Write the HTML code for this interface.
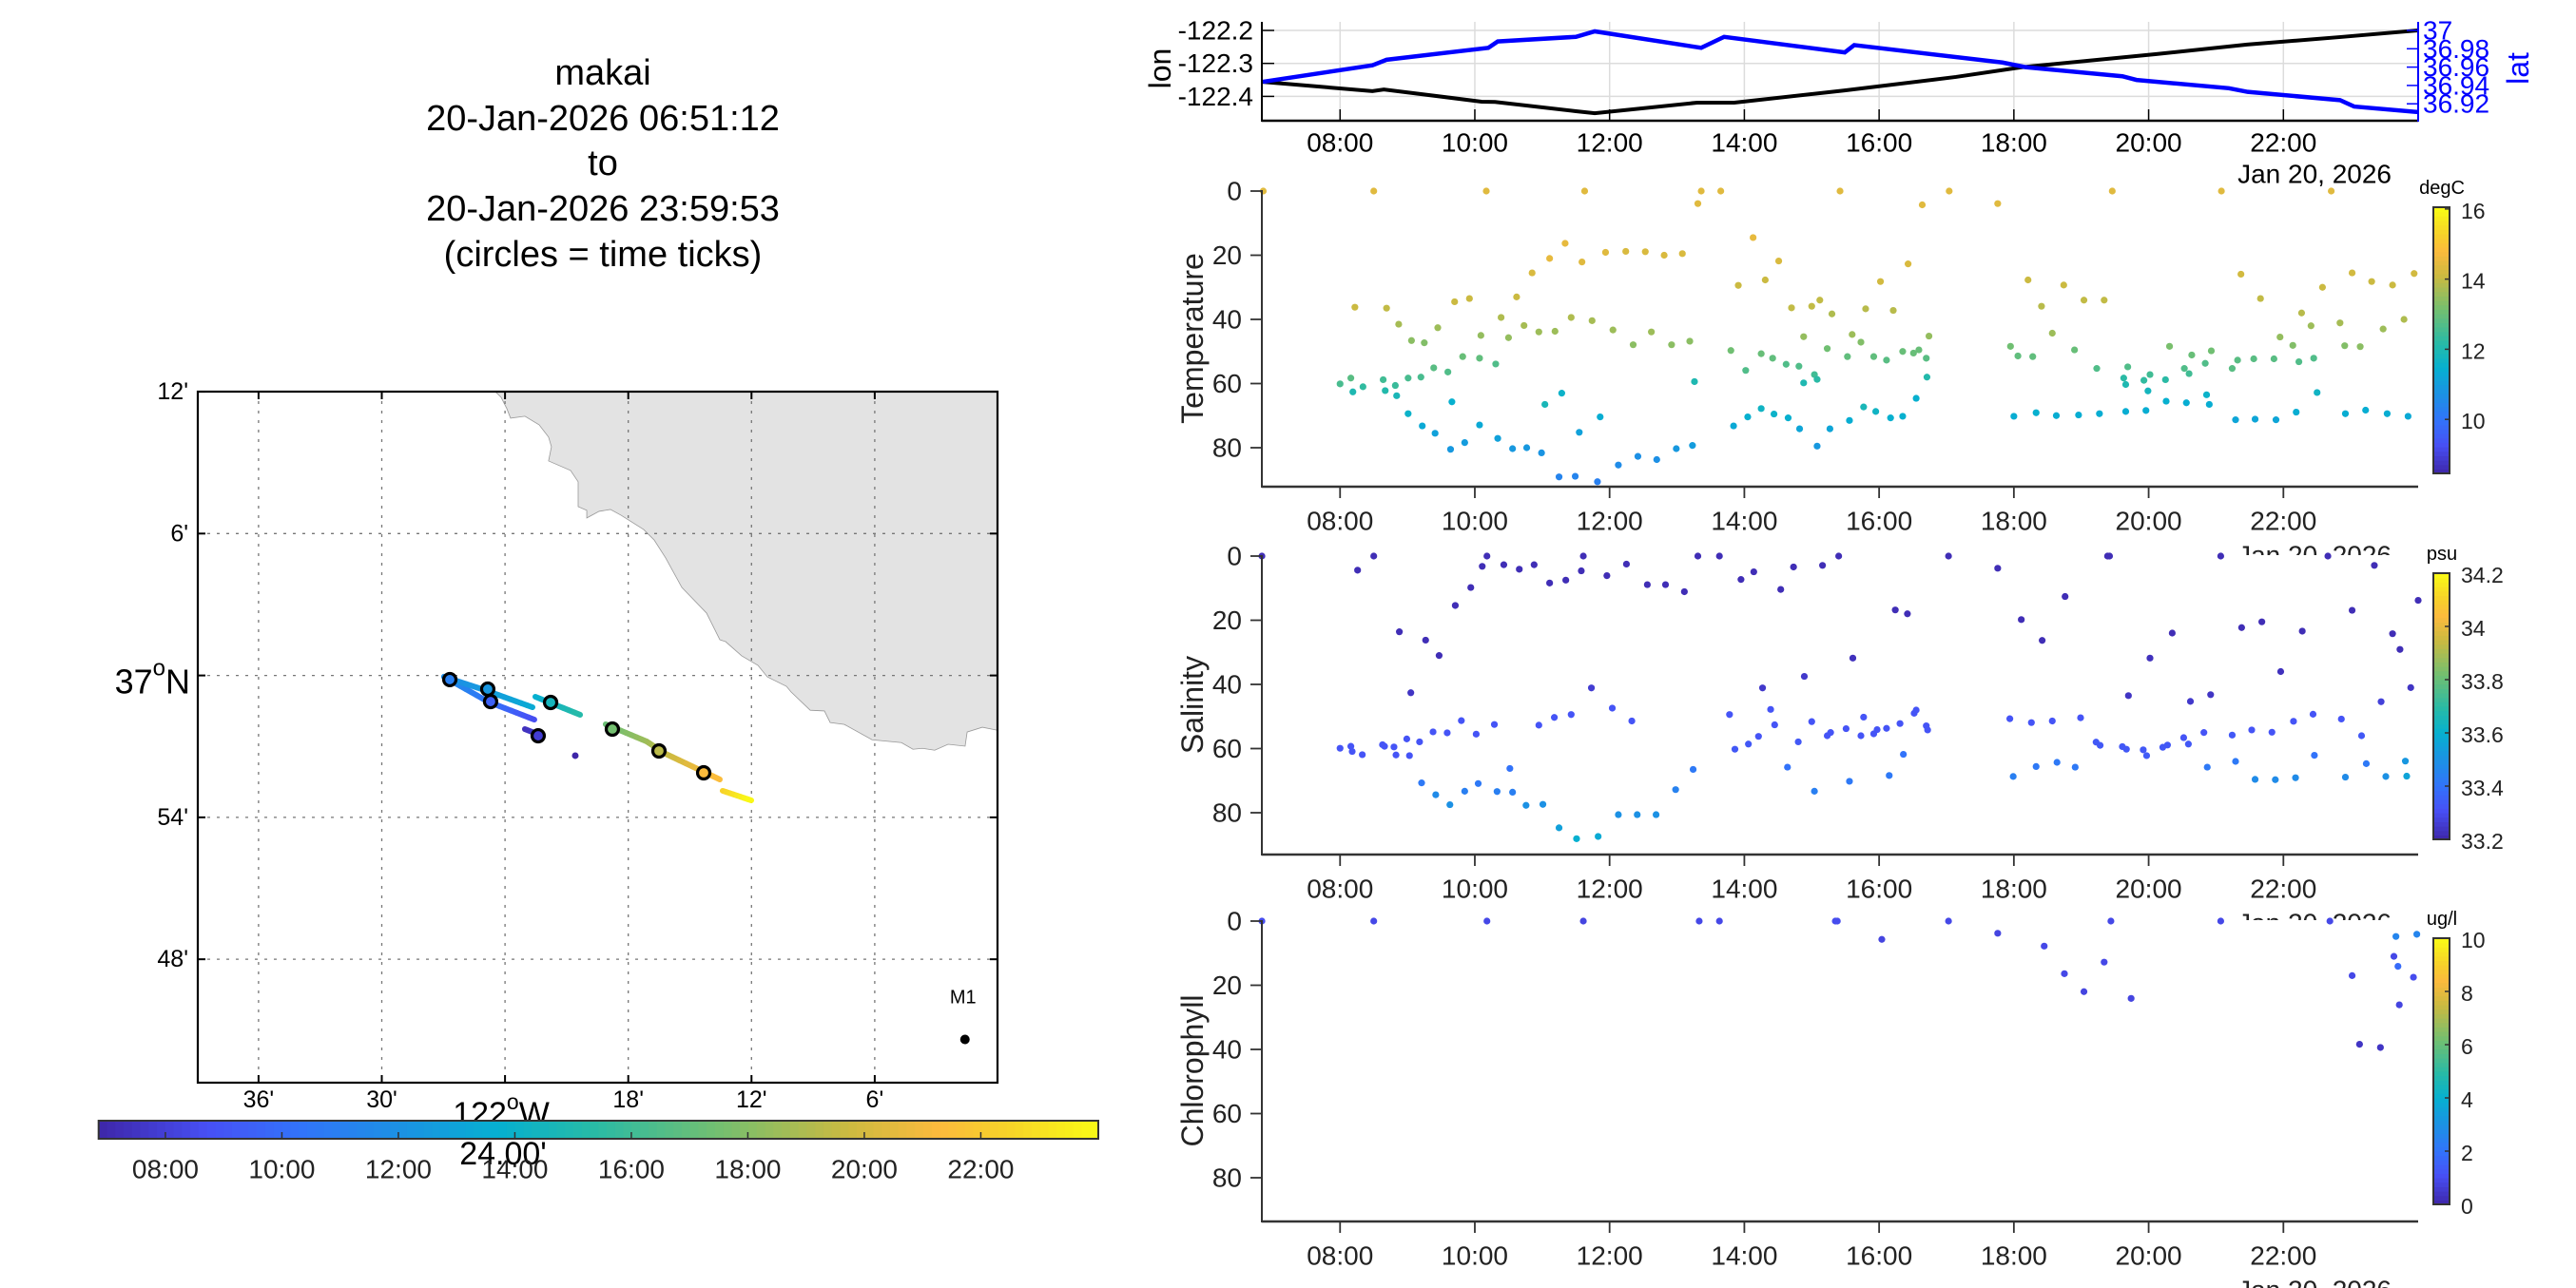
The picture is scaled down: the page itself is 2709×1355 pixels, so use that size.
<!DOCTYPE html>
<html><head><meta charset="utf-8">
<style>
html,body{margin:0;padding:0;background:#fff;}
svg{display:block;font-family:"Liberation Sans",Arial,sans-serif;}
</style></head>
<body>
<svg id="fig" xmlns="http://www.w3.org/2000/svg" width="2709" height="1355" viewBox="0 0 2709 1355">
<rect x="0" y="0" width="2709" height="1355" fill="#fff"/>
<g font-size="38" text-anchor="middle" fill="#000">
<text x="634" y="89">makai</text>
<text x="634" y="137">20-Jan-2026 06:51:12</text>
<text x="634" y="184">to</text>
<text x="634" y="232">20-Jan-2026 23:59:53</text>
<text x="634" y="280">(circles = time ticks)</text>
</g>
<defs>
<clipPath id="mapclip"><rect x="208" y="412" width="841" height="727"/></clipPath>
</defs>
<g id="map"></g>
<g id="cbarH"></g>
<g id="lonlat"></g>
<g id="temp"></g>
<g id="sal"></g>
<g id="chl"></g>
</svg>
<script>
// ---------- DATA ----------
const hourTicks = [8, 10, 12, 14, 16, 18, 20, 22];
const hourLabels = ["08:00", "10:00", "12:00", "14:00", "16:00", "18:00", "20:00", "22:00"];
const depthTicks = [0, 20, 40, 60, 80];

const lonTime = [6.853, 8.48, 8.65, 10.1, 10.3, 11.5, 11.78, 13.3, 13.85, 15.49, 17.14, 18.1, 20.1, 21.46, 22.85, 24.0];
const lonVal = [-122.356, -122.384, -122.379, -122.416, -122.417, -122.445, -122.451, -122.419, -122.419, -122.382, -122.341, -122.312, -122.272, -122.243, -122.220, -122.200];
const latTime = [6.853, 8.48, 8.69, 10.2, 10.34, 11.5, 11.78, 13.36, 13.7, 15.49, 15.63, 17.83, 18.17, 19.61, 19.82, 21.19, 21.47, 22.84, 23.05, 24.0];
const latVal = [36.944, 36.962, 36.968, 36.981, 36.988, 36.993, 36.999, 36.981, 36.993, 36.976, 36.984, 36.965, 36.960, 36.950, 36.946, 36.937, 36.933, 36.924, 36.917, 36.911];
const lonTicks = [-122.2, -122.3, -122.4];
const lonTickLabels = ["-122.2", "-122.3", "-122.4"];
const latTicks = [37, 36.98, 36.96, 36.94, 36.92];
const latTickLabels = ["37", "36.98", "36.96", "36.94", "36.92"];

// map track (decimal degrees), segment ids and times
const trackTime = [6.85, 7.3, 7.8, 8.5, 10.3, 11.75, 12.5, 13.4, 13.6, 15.3, 17.2, 18.5, 19.5, 21.5, 22.3, 24.0];
const trackLon = [-122.3430, -122.3839, -122.3723, -122.3762, -122.4140, -122.4495, -122.4140, -122.3777, -122.3754, -122.3391, -122.3183, -122.2851, -122.2697, -122.2257, -122.2234, -122.2002];
const trackLat = [36.9435, 36.9622, 36.9582, 36.9689, 36.9816, 36.9991, 36.9890, 36.9776, 36.9850, 36.9723, 36.9656, 36.9535, 36.9448, 36.9267, 36.9187, 36.9120];
const trackSeg = [0, 1, 1, 2, 2, 2, 2, 2, 3, 3, 4, 4, 4, 4, 5, 5];
const circTime = [7.9, 9.5, 11.0, 12.3, 14.5, 17.5, 19.3, 21.3];
const circLon = [-122.3731, -122.4117, -122.4448, -122.4140, -122.3630, -122.3129, -122.2751, -122.2388];
const circLat = [36.9575, 36.9816, 36.9971, 36.9904, 36.9810, 36.9622, 36.9468, 36.9314];
// coastline in arc-minutes (west of 122W, north of 37N)
const coastMinW = [24.47, 24.19, 23.91, 23.73, 23.03, 22.34, 21.88, 21.74, 21.88, 20.81, 20.44, 20.44, 20.02, 20.02, 19.42, 18.87, 18.36, 17.25, 16.74, 16.18, 15.39, 14.19, 13.54, 13.26, 12.48, 11.69, 11.23, 10.30, 10.07, 9.14, 8.45, 8.17, 7.48, 6.13, 4.70, 4.14, 3.68, 3.08, 2.43, 1.60, 1.50, 0.76, 0.0, 0.0];
const coastMinN = [12.0, 11.76, 11.28, 10.88, 10.96, 10.60, 10.08, 9.67, 9.07, 8.67, 8.19, 7.14, 6.98, 6.66, 6.94, 7.02, 6.78, 6.17, 5.73, 4.97, 3.72, 2.64, 1.51, 1.43, 0.83, 0.43, -0.06, -0.46, -0.70, -1.47, -1.50, -1.99, -2.07, -2.72, -2.84, -3.12, -3.08, -3.16, -2.91, -2.99, -2.39, -2.19, -2.32, 12.0];
const mapLatTicks = [12, 6, 0, -6, -12];
const mapLatLabels = ["12'", "6'", "37°N", "54'", "48'"];
const mapLonTicks = [36, 30, 24, 18, 12, 6];
const mapLonLabels = ["36'", "30'", "", "18'", "12'", "6'"];
const m1Lon = -122.0268;
const m1Lat = 36.7435;

// temperature
const tempTime = [6.86,8.50,10.17,11.63,13.36,13.65,15.42,17.04,19.46,21.08,22.71,13.31,16.64,17.76,
8.22,8.00,8.16,8.19,8.34,8.64,8.67,8.69,8.82,8.84,8.87,9.01,9.01,9.06,9.20,9.22,9.25,9.41,9.45,9.39,9.60,9.66,9.64,9.70,9.82,9.85,9.92,
10.07,10.07,10.09,10.31,10.34,10.39,10.50,10.56,10.62,10.73,10.77,10.85,10.95,10.99,11.04,11.11,11.19,11.25,11.29,11.34,11.43,11.49,11.55,11.59,11.74,11.82,11.86,11.94,
12.05,12.13,12.24,12.35,12.42,12.53,12.62,12.70,12.81,12.92,12.99,13.08,13.19,13.23,13.26,13.80,13.84,13.91,
14.02,14.05,14.13,14.25,14.25,14.31,14.42,14.44,14.51,14.62,14.65,14.70,14.81,14.82,14.88,14.88,15.00,15.04,15.08,15.08,15.12,15.23,15.27,15.30,15.53,15.56,15.60,15.73,15.77,15.80,15.92,15.95,
16.02,16.11,16.17,16.21,16.35,16.35,16.43,16.51,16.55,16.59,16.70,16.71,16.74,
17.95,18.00,18.06,18.21,18.28,18.33,18.41,18.57,18.63,18.74,18.90,18.96,19.04,19.23,19.27,19.34,19.63,19.66,19.69,19.66,19.93,19.96,19.99,
20.02,20.25,20.26,20.31,20.53,20.56,20.60,20.64,20.84,20.86,20.90,20.93,21.24,21.29,21.32,21.37,21.56,21.58,21.66,21.86,21.89,21.95,
22.14,22.19,22.23,22.27,22.41,22.45,22.50,22.58,22.84,22.91,22.92,23.02,23.14,23.22,23.31,23.48,23.54,23.62,23.79,23.85,23.94];
const tempDepth = [0,0,0,0,0,0,0,0,0,0,0,3.9,4.3,3.9,
36.2,60.1,58.3,62.6,61.0,58.8,62.2,36.5,60.6,63.8,41.5,69.4,58.3,46.6,58.0,73.2,47.3,75.5,42.6,55.1,56.4,65.7,80.5,34.5,51.6,78.4,33.5,
52.1,72.9,45.0,53.9,77.1,39.4,45.7,80.3,33.0,41.9,80.0,25.5,43.9,81.6,66.5,21.0,43.7,89.1,63.0,16.3,39.4,88.9,75.2,22.1,40.4,90.6,70.4,19.1,
43.3,85.4,18.8,47.9,82.7,18.9,43.9,83.7,20.0,47.9,80.3,19.5,46.8,79.3,59.4,49.7,73.2,29.4,
55.9,70.4,14.5,50.7,67.8,27.7,52.1,69.5,21.8,54.0,70.7,36.4,54.6,74.1,45.4,59.8,35.9,57.2,58.7,79.5,34.0,49.1,74.1,38.3,51.6,71.5,44.7,47.1,67.3,36.7,51.6,68.7,
28.2,52.7,70.7,37.2,70.2,50.0,22.7,50.5,64.6,49.5,52.1,58.0,45.2,
48.4,70.2,51.4,27.7,51.6,69.1,35.9,44.3,70.0,29.3,49.5,69.8,34.0,55.3,69.4,34.0,58.3,60.3,54.8,68.7,59.0,68.4,62.3,
57.2,58.8,65.5,48.4,55.3,66.0,56.9,51.1,53.7,63.5,66.5,49.8,55.3,71.3,52.7,25.9,52.3,71.1,33.5,52.3,71.3,45.5,
48.1,68.9,53.2,38.0,42.0,52.1,62.8,30.0,41.1,48.2,69.4,25.5,48.5,68.3,28.2,43.0,69.4,29.3,40.0,70.2,25.7];
const tempVal = [14.4,14.4,14.4,14.4,14.4,14.4,14.4,14.4,14.4,14.4,14.4,14.4,14.4,14.4,
14.1,12.6,12.8,12.0,12.3,12.5,12.1,14.0,12.4,11.9,13.7,11.6,12.6,13.4,12.6,11.3,13.3,11.1,13.6,12.8,12.7,11.5,10.9,14.1,13.0,11.0,14.1,
12.9,11.3,13.5,12.7,11.1,13.8,13.5,10.9,14.1,13.7,10.9,14.3,13.6,10.8,11.9,14.5,13.6,10.4,11.6,14.5,13.8,10.4,11.1,14.4,13.7,10.3,11.4,14.4,
13.6,10.6,14.3,13.4,10.7,14.3,13.6,10.7,14.3,13.4,10.9,14.3,13.4,11.0,12.0,13.1,11.3,14.1,
12.7,11.5,14.5,13.0,11.7,14.1,12.9,11.6,14.3,12.7,11.5,14.0,12.7,11.2,13.5,12.0,14.0,12.5,12.2,10.9,14.0,13.1,11.2,13.8,12.9,11.4,13.6,13.3,11.9,13.9,12.9,11.7,
14.2,12.8,11.5,13.9,11.5,13.0,14.3,13.0,11.5,13.0,12.8,12.1,13.5,
13.1,11.4,12.9,14.1,12.9,11.5,13.9,13.6,11.4,14.1,13.0,11.4,14.0,12.7,11.4,14.0,12.2,12.0,12.7,11.4,12.3,11.4,11.8,
12.5,12.2,11.5,13.2,12.7,11.4,12.5,13.0,12.7,11.6,11.4,13.1,12.8,11.2,12.8,14.2,12.8,11.2,14.0,12.8,11.2,13.5,
13.3,11.4,12.7,13.9,13.6,12.7,11.7,14.1,13.7,13.3,11.4,14.2,13.4,11.4,14.1,13.6,11.4,14.1,13.8,11.3,14.2];

// salinity
const salTime = [6.84,8.50,10.18,11.61,13.31,13.63,15.40,17.03,19.39,19.42,21.07,22.66,
8.26,8.88,9.05,9.27,9.47,9.71,9.94,10.11,10.43,10.66,10.88,11.11,11.35,11.58,11.73,11.96,12.25,12.56,12.83,13.11,13.95,14.14,14.54,14.73,14.89,15.16,15.61,16.24,16.42,17.76,18.11,18.42,18.76,19.70,20.02,20.35,20.62,20.92,21.38,21.68,21.96,22.28,23.02,23.35,23.45,23.62,23.73,23.89,24.00,
8.00,8.16,8.18,8.33,8.63,8.66,8.80,8.83,8.99,9.03,9.18,9.38,9.59,9.80,10.02,10.29,10.95,11.18,11.43,12.04,12.33,13.78,13.86,14.06,14.21,14.27,14.39,14.45,14.80,15.00,15.23,15.28,15.51,15.73,15.77,15.92,15.97,16.11,16.31,16.52,16.55,16.70,16.72,16.36,
17.94,18.26,18.57,18.99,19.22,19.28,19.61,19.67,19.92,19.97,20.21,20.28,20.52,20.59,20.82,21.24,21.53,21.83,22.15,22.44,22.86,23.16,
9.21,9.42,9.63,9.85,10.05,10.33,10.52,10.56,10.76,11.01,11.25,11.51,11.83,12.13,12.41,12.69,12.98,13.24,14.64,15.04,15.56,16.15,17.99,18.33,18.64,18.91,20.87,21.29,21.58,21.88,22.18,22.46,22.92,23.23,23.52,23.81,23.83];
const salDepth = [0,0,0,0,0,0,0,0,0,0,0,0,
4.4,23.6,42.6,26.2,31.0,15.4,9.8,3.2,2.7,4.1,2.7,8.4,7.5,4.6,41.1,6.1,2.5,8.9,8.9,11.1,7.3,4.9,10.4,3.4,37.5,2.9,31.8,16.8,18.0,3.8,19.8,26.3,12.6,43.5,31.8,24.0,45.3,43.2,22.3,20.5,36.0,23.4,16.9,2.9,45.4,24.2,29.1,41.0,13.8,
59.9,59.3,60.9,61.9,58.8,59.3,59.5,62.0,57.0,62.2,57.9,54.8,55.1,51.3,55.5,52.5,52.7,50.3,49.4,47.4,51.4,49.4,60.2,58.6,56.2,41.1,47.8,52.6,57.9,51.6,56.0,55.0,53.8,56.0,50.2,55.4,54.1,53.7,52.2,49.0,48.0,52.9,54.2,61.8,
50.7,51.9,51.4,50.4,58.0,59.0,59.4,60.2,60.4,62.2,59.6,58.9,56.6,58.6,55.0,55.8,54.2,54.9,51.5,49.3,50.8,56.0,
70.7,74.4,77.5,73.3,70.9,73.4,66.2,73.6,77.7,77.4,84.7,88.1,87.4,80.6,80.6,80.6,72.8,66.5,65.8,73.3,70.2,68.4,68.7,65.6,64.3,65.8,65.8,64.0,69.6,69.7,69.1,62.1,68.9,64.7,68.7,63.9,68.6];
const salVal = [33.22,33.22,33.22,33.22,33.22,33.22,33.22,33.22,33.22,33.22,33.22,33.22,
33.22,33.22,33.24,33.22,33.22,33.22,33.22,33.22,33.22,33.22,33.22,33.22,33.22,33.22,33.26,33.22,33.22,33.22,33.22,33.22,33.22,33.22,33.22,33.22,33.25,33.22,33.23,33.22,33.22,33.22,33.22,33.22,33.22,33.24,33.23,33.22,33.25,33.24,33.22,33.22,33.23,33.22,33.22,33.22,33.27,33.22,33.22,33.24,33.22,
33.32,33.32,33.32,33.32,33.32,33.32,33.32,33.32,33.32,33.32,33.32,33.32,33.32,33.32,33.32,33.32,33.32,33.32,33.32,33.32,33.32,33.32,33.33,33.33,33.32,33.25,33.32,33.32,33.33,33.32,33.32,33.32,33.32,33.32,33.32,33.32,33.32,33.32,33.32,33.32,33.32,33.32,33.32,33.40,
33.32,33.32,33.32,33.32,33.33,33.33,33.33,33.33,33.33,33.34,33.33,33.33,33.32,33.33,33.32,33.33,33.32,33.32,33.32,33.32,33.32,33.33,
33.42,33.48,33.50,33.44,33.42,33.44,33.40,33.44,33.50,33.50,33.55,33.60,33.58,33.50,33.50,33.50,33.45,33.42,33.40,33.44,33.42,33.42,33.44,33.42,33.42,33.42,33.42,33.42,33.48,33.48,33.48,33.40,33.48,33.42,33.50,33.52,33.56];

// chlorophyll
const chlTime = [6.84,8.50,10.18,11.61,13.33,13.63,15.35,15.38,17.03,19.44,21.07,22.69,16.04,17.76,18.45,18.75,19.04,19.34,19.74,23.02,23.13,23.44,23.64,23.67,23.70,23.72,23.93,23.98];
const chlDepth = [0,0,0,0,0,0,0,0,0,0,0,0,5.7,3.8,7.8,16.4,22.0,12.8,24.1,17.0,38.4,39.4,11.0,4.8,14.1,26.1,17.5,4.1];
const chlVal = [1.0,0.9,0.9,0.8,0.9,0.9,1.0,1.0,0.9,0.9,0.9,0.9,0.8,0.8,0.9,0.9,0.8,0.9,0.8,0.9,0.4,0.4,0.9,2.6,1.8,0.8,1.0,2.6];

const tempCbTicks = [16, 14, 12, 10];
const salCbTicks = [34.2, 34, 33.8, 33.6, 33.4, 33.2];
const chlCbTicks = [10, 8, 6, 4, 2, 0];

// ---------- HELPERS ----------
const NS = "http://www.w3.org/2000/svg";
function el(tag, parent) { const e = document.createElementNS(NS, tag); parent.appendChild(e); return e; }
const PSTOPS = [[0,62,38,168],[0.11,71,80,245],[0.2,50,115,250],[0.3,28,145,228],[0.4,6,176,208],[0.49,38,186,168],[0.62,115,191,112],[0.75,204,186,64],[0.84,252,186,61],[0.9,247,207,43],[1,249,251,21]];
function parula(f) {
  f = Math.max(0, Math.min(1, f));
  for (let i = 1; i < PSTOPS.length; i++) {
    if (f <= PSTOPS[i][0]) {
      const a = PSTOPS[i-1], b = PSTOPS[i], u = (f - a[0]) / (b[0] - a[0]);
      return "rgb(" + [1,2,3].map(k => Math.round(a[k] + (b[k]-a[k])*u)).join(",") + ")";
    }
  }
  return "rgb(249,251,21)";
}
const T0 = 6.8533, T1 = 24.0;
function xT(t) { return 1328 + (t - T0) * 70.86; }
function txt(parent, x, y, s, size, anchor, fill) {
  const t = el("text", parent);
  t.setAttribute("x", x); t.setAttribute("y", y);
  t.setAttribute("font-size", size); t.setAttribute("text-anchor", anchor || "middle");
  t.setAttribute("dominant-baseline", "central");
  t.setAttribute("fill", fill || "#000");
  t.textContent = s;
  return t;
}
function line(parent, x1, y1, x2, y2, stroke, w) {
  const l = el("line", parent);
  l.setAttribute("x1", x1); l.setAttribute("y1", y1); l.setAttribute("x2", x2); l.setAttribute("y2", y2);
  l.setAttribute("stroke", stroke); l.setAttribute("stroke-width", w);
  return l;
}

// ---------- MAP ----------
(function () {
  const g = document.getElementById("map");
  const xM = m => 1049.5 - 21.6 * m;
  const yN = n => 710.6 - 24.88 * n;
  const xLon = lon => xM(-(lon + 122) * 60);
  const yLat = lat => yN((lat - 37) * 60);
  const inner = el("g", g);
  inner.setAttribute("clip-path", "url(#mapclip)");
  
  
  // coast
  const poly = el("polygon", inner);
  
  
  poly.setAttribute("points", coastMinW.map((m, i) => xM(m) + "," + yN(coastMinN[i])).join(" "));
  poly.setAttribute("fill", "#e3e3e3"); poly.setAttribute("stroke", "#999"); poly.setAttribute("stroke-width", "0.8");
  // grid
  mapLatTicks.forEach((n, i) => {
    const l = line(inner, 208, yN(n), 1049, yN(n), "#777", 1.3);
    l.setAttribute("stroke-dasharray", "3,7");
    
    
  });
  mapLonTicks.forEach((m, i) => {
    const l = line(inner, xM(m), 412, xM(m), 1139, "#777", 1.3);
    l.setAttribute("stroke-dasharray", "3,7");
    
    
  });
  // track
  const T = el("g", inner);
  
  
  const frac = t => (t - T0) / (T1 - T0);
  for (let i = 0; i < trackTime.length; i++) {
    const lone = (i === 0 || trackSeg[i-1] !== trackSeg[i]) && (i === trackTime.length - 1 || trackSeg[i+1] !== trackSeg[i]);
    if (lone) {
      const c = el("circle", T);
      
      
      c.setAttribute("cx", xLon(trackLon[i])); c.setAttribute("cy", yLat(trackLat[i])); c.setAttribute("r", 3.5);
      c.setAttribute("fill", parula(frac(trackTime[i])));
    }
    if (i < trackTime.length - 1 && trackSeg[i+1] === trackSeg[i]) {
      const N = 8;
      for (let k = 0; k < N; k++) {
        const u0 = k / N, u1 = (k + 1) / N;
        const l = line(T,
          xLon(trackLon[i] + (trackLon[i+1]-trackLon[i])*u0), yLat(trackLat[i] + (trackLat[i+1]-trackLat[i])*u0),
          xLon(trackLon[i] + (trackLon[i+1]-trackLon[i])*u1), yLat(trackLat[i] + (trackLat[i+1]-trackLat[i])*u1),
          parula(frac(trackTime[i] + (trackTime[i+1]-trackTime[i])*(u0+u1)/2)), 6);
        l.setAttribute("stroke-linecap", "round");
        
        
      }
    }
  }
  circTime.forEach((t, i) => {
    const c = el("circle", T);
    
    
    c.setAttribute("cx", xLon(circLon[i])); c.setAttribute("cy", yLat(circLat[i])); c.setAttribute("r", 6.5);
    c.setAttribute("fill", parula(frac(t))); c.setAttribute("stroke", "#000"); c.setAttribute("stroke-width", 3.2);
  });
  // M1
  const m1 = el("circle", inner);
  
  
  m1.setAttribute("cx", xLon(m1Lon)); m1.setAttribute("cy", yLat(m1Lat)); m1.setAttribute("r", 5);
  const m1t = txt(inner, xLon(m1Lon) - 2, yLat(m1Lat) - 44, "M1", 20);
  
  
  // frame
  const fr = el("rect", g);
  
  
  fr.setAttribute("x", 208); fr.setAttribute("y", 412); fr.setAttribute("width", 841); fr.setAttribute("height", 727);
  fr.setAttribute("fill", "none"); fr.setAttribute("stroke", "#000"); fr.setAttribute("stroke-width", 2.2);
  mapLatTicks.forEach((n, i) => {
    line(g, 208, yN(n), 216, yN(n), "#000", 2);
    line(g, 1041, yN(n), 1049, yN(n), "#000", 2);
    const big = mapLatLabels[i] === "37°N";
    const t = txt(g, big ? 200 : 198, yN(n) + (big ? 6 : 0), big ? "" : mapLatLabels[i], big ? 36 : 25, "end");
    if (big) {
      const a = el("tspan", t); a.textContent = "37";
      const b = el("tspan", t); b.textContent = "o"; b.setAttribute("font-size", 24); b.setAttribute("dy", -14);
      const c = el("tspan", t); c.textContent = "N"; c.setAttribute("dy", 14);
    }
    
    
  });
  mapLonTicks.forEach((m, i) => {
    line(g, xM(m), 1139, xM(m), 1131, "#000", 2);
    line(g, xM(m), 412, xM(m), 420, "#000", 2);
    const t = txt(g, xM(m), 1157, mapLonLabels[i], 25);
    
    
  });
  const w = txt(g, 527, 1172, "", 34);
  const w1 = el("tspan", w); w1.textContent = "122";
  const w2 = el("tspan", w); w2.textContent = "o"; w2.setAttribute("font-size", 23); w2.setAttribute("dy", -13);
  const w3 = el("tspan", w); w3.textContent = "W"; w3.setAttribute("dy", 13);
  
  
  const w4 = txt(g, 529, 1214, "24.00'", 34);
  
  
})();

// ---------- HORIZONTAL TIME COLORBAR ----------
(function () {
  const g = document.getElementById("cbarH");
  const x0 = 103.7, x1 = 1155, y0 = 1179, h = 19;
  const N = 120;
  for (let i = 0; i < N; i++) {
    const r = el("rect", g);
    
    
    r.setAttribute("x", x0 + (x1-x0)*i/N); r.setAttribute("y", y0);
    r.setAttribute("width", (x1-x0)/N + 0.6); r.setAttribute("height", h);
    r.setAttribute("fill", parula((i + 0.5) / N));
  }
  const fr = el("rect", g);
  
  
  fr.setAttribute("x", x0); fr.setAttribute("y", y0); fr.setAttribute("width", x1-x0); fr.setAttribute("height", h);
  fr.setAttribute("fill", "none"); fr.setAttribute("stroke", "#333"); fr.setAttribute("stroke-width", 2);
  hourTicks.forEach((t, i) => {
    const x = x0 + (t - T0) * 61.25;
    line(g, x, y0 + h, x, y0 + h - 7, "#333", 1.5);
    const l = txt(g, x, 1230, hourLabels[i], 28, "middle", "#222");
    
    
  });
})();

// ---------- LON/LAT PANEL ----------
(function () {
  const g = document.getElementById("lonlat");
  const yLon = v => 32 + (-122.2 - v) * 347;
  const yLat = v => 32 + (37 - v) * 965;
  lonTicks.forEach(v => {
    const l = line(g, 1328, yLon(v), 2543, yLon(v), "#dcdcdc", 1.5);
    
    
  });
  hourTicks.forEach(t => {
    const l = line(g, xT(t), 23, xT(t), 127, "#dcdcdc", 1.5);
    
    
  });
  const pl = el("polyline", g);
  
  
  pl.setAttribute("points", lonTime.map((t, i) => xT(t) + "," + yLon(lonVal[i])).join(" "));
  pl.setAttribute("fill", "none"); pl.setAttribute("stroke", "#000"); pl.setAttribute("stroke-width", 4);
  const pb = el("polyline", g);
  
  
  pb.setAttribute("points", latTime.map((t, i) => xT(t) + "," + yLat(latVal[i])).join(" "));
  pb.setAttribute("fill", "none"); pb.setAttribute("stroke", "#0000ff"); pb.setAttribute("stroke-width", 4.5);
  line(g, 1327, 23, 1327, 128, "#000", 2);
  line(g, 1327, 127, 2543, 127, "#000", 2.5);
  line(g, 2543, 23, 2543, 128, "#0000ff", 2);
  lonTicks.forEach((v, i) => {
    line(g, 1327, yLon(v), 1340, yLon(v), "#000", 1.5);
    const l = txt(g, 1318, yLon(v), lonTickLabels[i], 28, "end");
    
    
  });
  latTicks.forEach((v, i) => {
    line(g, 2543, yLat(v), 2531, yLat(v), "#0000ff", 1.5);
    const l = txt(g, 2548, yLat(v), latTickLabels[i], 28, "start", "#0000ff");
    
    
  });
  hourTicks.forEach((t, i) => {
    line(g, xT(t), 127, xT(t), 115, "#000", 1.5);
    const l = txt(g, xT(t), 150, hourLabels[i], 28);
    
    
  });
  const yl = txt(g, 0, 0, "lon", 32);
  yl.setAttribute("transform", "translate(1220,72) rotate(-90)");
  
  
  const yr = txt(g, 0, 0, "lat", 32, "middle", "#0000ff");
  yr.setAttribute("transform", "translate(2648,72) rotate(-90)");
  
  
  const d = txt(g, 2515, 183, "Jan 20, 2026", 28, "end");
  
  
})();

// ---------- SCATTER PANELS ----------
function scatterPanel(id, top, bottom, y0, title, unit, times, depths, vals, vmin, vmax, cbTicks, cbLabels) {
  const g = document.getElementById(id);
  const yD = d => y0 + d * 3.375;
  const bg = el("rect", g);
  
  
  bg.setAttribute("x", 1300); bg.setAttribute("y", top); bg.setAttribute("width", 1260); bg.setAttribute("height", bottom - top);
  bg.setAttribute("fill", "#fff");
  const pts = el("g", g);
  
  
  times.forEach((t, i) => {
    const c = el("circle", pts);
    
    
    c.setAttribute("cx", xT(t)); c.setAttribute("cy", yD(depths[i])); c.setAttribute("r", 3.6);
    c.setAttribute("fill", parula((vals[i] - vmin) / (vmax - vmin)));
  });
  line(g, 1327, top, 1327, bottom + 1, "#333", 2);
  line(g, 1327, bottom, 2543, bottom, "#333", 2.5);
  depthTicks.forEach(d => {
    line(g, 1315, yD(d), 1327, yD(d), "#333", 1.8);
    const l = txt(g, 1306, yD(d), String(d), 28, "end", "#222");
    
    
  });
  hourTicks.forEach((t, i) => {
    line(g, xT(t), bottom, xT(t), bottom + 12, "#333", 1.8);
    const l = txt(g, xT(t), bottom + 36, hourLabels[i], 28, "middle", "#222");
    
    
  });
  const d = txt(g, 2515, bottom + 72, "Jan 20, 2026", 28, "end", "#222");
  
  
  const yl = txt(g, 0, 0, title, 32, "middle", "#222");
  yl.setAttribute("transform", "translate(1254," + ((top + bottom) / 2) + ") rotate(-90)");
  
  
  // colorbar
  const cbTop = top + 18 + (id === "temp" ? 0 : 1), cbBot = cbTop + 280;
  const N = 60;
  for (let i = 0; i < N; i++) {
    const r = el("rect", g);
    
    
    r.setAttribute("x", 2559); r.setAttribute("y", cbBot - (cbBot - cbTop) * (i + 1) / N);
    r.setAttribute("width", 17); r.setAttribute("height", (cbBot - cbTop) / N + 0.6);
    r.setAttribute("fill", parula((i + 0.5) / N * (cbTicks.max - vmin) / (vmax - vmin) + (cbTicks.min - vmin) / (vmax - vmin)));
  }
  const fr = el("rect", g);
  
  
  fr.setAttribute("x", 2559); fr.setAttribute("y", cbTop); fr.setAttribute("width", 17); fr.setAttribute("height", cbBot - cbTop);
  fr.setAttribute("fill", "none"); fr.setAttribute("stroke", "#333"); fr.setAttribute("stroke-width", 2);
  cbLabels.forEach(v => {
    const y = cbBot - (v - cbTicks.min) / (cbTicks.max - cbTicks.min) * (cbBot - cbTop);
    line(g, 2576, y, 2571, y, "#333", 1.5);
    const l = txt(g, 2588, y + 2, String(v), 23, "start", "#222");
    
    
  });
  const u = txt(g, 2568, cbTop - 20, unit, 20, "middle", "#000");
  
  
}
scatterPanel("temp", 200, 512, 201, "Temperature", "degC", tempTime, tempDepth, tempVal, 8.46, 16, {min: 8.46, max: 16.05}, tempCbTicks);
scatterPanel("sal", 584, 899, 585, "Salinity", "psu", salTime, salDepth, salVal, 33.2, 34.2, {min: 33.2, max: 34.2}, salCbTicks);
scatterPanel("chl", 968, 1285, 969, "Chlorophyll", "ug/l", chlTime, chlDepth, chlVal, 0, 10, {min: 0, max: 10}, chlCbTicks);
</script>
</body></html>
